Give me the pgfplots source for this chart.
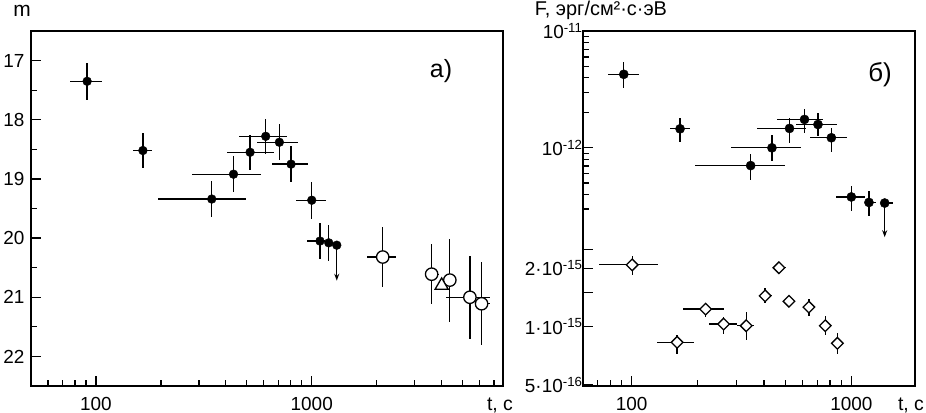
\documentclass[border=0pt]{standalone}
\usepackage{fontspec}
\setmainfont{Liberation Sans}
\usepackage{pgfplots}
\usepackage{pgfplotstable}
\pgfplotsset{compat=1.18}
\usetikzlibrary{arrows.meta}

\pgfplotstableread{
t m tm tp me
91 17.35 15 16 0.31
165 18.52 16 16 0.30
344 19.34 151 153 0.31
434 18.92 154 148 0.30
518 18.55 114 150 0.30
612 18.28 152 153 0.30
708 18.38 152 153 0.30
802 18.75 149 162 0.31
1000 19.36 154 164 0.31
1092 20.05 144 61 0.30
1199 20.08 0 0 0.30
1306 20.12 0 0 0
}\leftfilled

\pgfplotstableread{
t m tm tp me
2133 20.32 333 322 0.50
3595 20.61 167 285 0.51
4365 20.71 0 0 0.70
5407 21.00 1199 1276 0.70
6125 21.11 318 575 0.70
}\leftopen

\pgfplotstableread{
t F tm tp Fm Fp
92 4.26e-12 14 16 0.99e-12 1.16e-12
166 1.455e-12 16 19 0.335e-12 0.355e-12
348 7.05e-13 153.5 149 1.7e-13 1.85e-13
435 1.0e-12 153 152 2.3e-13 2.8e-13
523 1.466e-12 151 97 0.36e-12 0.34e-12
612 1.75e-12 152 129 0.40e-12 0.41e-12
705 1.585e-12 144 158 0.325e-12 0.385e-12
811 1.22e-12 161 144 0.30e-12 0.26e-12
1000 3.8e-13 145 151 0.94e-13 0.95e-13
1203 3.41e-13 53 97 0.82e-13 0.89e-13
1419 3.37e-13 60 130 0 0
}\rightfilled

\pgfplotstableread{
t F tm tp Fm Fp
100.5 2.08e-15 29.7 31.9 0.23e-15 0.22e-15
161 8.3e-16 31 32 1.1e-16 0.8e-16
217 1.23e-15 46 45 0.11e-15 0.09e-15
262 1.03e-15 36 40 0.114e-15 0.097e-15
332 1.01e-15 29 30 0.16e-15 0.18e-15
405 1.44e-15 24 28 0.12e-15 0.14e-15
468 2.01e-15 28 38 0.12e-15 0.11e-15
520 1.35e-15 20 20 0.08e-15 0.08e-15
641 1.26e-15 20 20 0.125e-15 0.12e-15
761 1.01e-15 25 25 0.11e-15 0.125e-15
864 8.2e-16 25 25 1.0e-16 1.05e-16
}\rightdiam

\pgfplotsset{
  myaxis/.style={
    scale only axis, anchor=south west,
    axis line style={line width=1.6bp},
    tick style={line width=1.2bp, black},
    major tick length=10bp, minor tick length=6.5bp,
    xtick pos=bottom, ytick pos=left,
    tick align=inside,
    ticklabel style={font=\fontsize{19}{22}\selectfont},
    /pgf/number format/assume math mode=true,
    clip=false,
    error bars/error bar style={line width=1.3bp, black},
    error bars/error mark=none,
  },
  ebars/.style={
    error bars/.cd, x dir=both, x explicit, y dir=both, y explicit,
  },
}

\begin{document}
\begin{tikzpicture}
% ---------- left panel ----------
\begin{axis}[myaxis,
  at={(31bp,27bp)}, width=472bp, height=355bp,
  xmode=log, xmin=50, xmax=7700,
  xtick={100,1000}, xticklabels={100,1000},
  minor xtick={60,70,80,90,200,300,400,500,600,700,800,900,2000,3000,4000,5000,6000,7000},
  ymin=16.5, ymax=22.5, y dir=reverse,
  ytick={17,18,19,20,21,22},
  minor ytick={17.5,18.5,19.5,20.5,21.5},
  xticklabel style={yshift=-8bp},
  yticklabel style={xshift=-3bp},
]
\addplot[only marks, mark=*, mark size=4.4bp, mark options={fill=black, draw=black}, ebars]
  table[x=t, y=m, x error minus=tm, x error plus=tp, y error=me] {\leftfilled};
\addplot[only marks, mark=*, mark size=6.2bp, mark options={fill=white, draw=black, line width=1.3bp}, ebars]
  table[x=t, y=m, x error minus=tm, x error plus=tp, y error=me] {\leftopen};
\addplot[only marks, mark=triangle*, mark size=7.5bp, mark options={fill=white, draw=black, line width=1.3bp}]
  coordinates {(4000,20.80)};
\addplot[line width=1.3bp, -{Stealth[length=7bp, width=5bp]}] coordinates {(1306,20.12) (1306,20.72)};
\end{axis}

% ---------- right panel, upper scale (filled circles) ----------
\begin{axis}[myaxis,
  at={(583bp,27bp)}, width=332bp, height=355bp,
  xmode=log, xmin=60, xmax=1950,
  xtick={100,1000}, xticklabels={100,1000},
  minor xtick={70,80,90,200,300,400,500,600,700,800,900},
  ymode=log, ymin=9.15e-15, ymax=1e-11,
  ytick={1e-12,1e-11},
  yticklabels={10\textsuperscript{-12},10\textsuperscript{-11}},
  minor ytick={3e-13,4e-13,5e-13,6e-13,7e-13,8e-13,9e-13,2e-12,3e-12,4e-12,5e-12,6e-12,7e-12,8e-12,9e-12},
  xticklabel style={yshift=-8bp},
  yticklabel style={xshift=3bp},
]
\addplot[only marks, mark=*, mark size=4.6bp, mark options={fill=black, draw=black}, ebars]
  table[x=t, y=F, x error minus=tm, x error plus=tp, y error minus=Fm, y error plus=Fp] {\rightfilled};
\addplot[line width=1.3bp, -{Stealth[length=7bp, width=5bp]}] coordinates {(1419,3.37e-13) (1419,1.72e-13)};
\end{axis}

% ---------- right panel, lower scale (diamonds) ----------
\begin{axis}[myaxis,
  at={(583bp,27bp)}, width=332bp, height=355bp,
  xmode=log, xmin=60, xmax=1950,
  hide x axis,
  ymode=log, ymin=4.94e-16, ymax=3.33e-14,
  ytick={5e-16,1e-15,2e-15},
  yticklabels={5·10\textsuperscript{-16},1·10\textsuperscript{-15},2·10\textsuperscript{-15}},
  minor ytick={1.5e-15,2.5e-15},
  minor tick length=10bp,
  yticklabel style={xshift=3bp},
]
\addplot[only marks, mark=square*, mark size=4.1bp, mark options={rotate=45, fill=white, draw=black, line width=1.3bp}, ebars]
  table[x=t, y=F, x error minus=tm, x error plus=tp, y error minus=Fm, y error plus=Fp] {\rightdiam};
\end{axis}

% ---------- texts ----------
\node[font=\fontsize{21}{25}\selectfont] at (22bp,402bp) {m};
\node[font=\fontsize{19.5}{23}\selectfont] at (500bp,8bp) {t, с};
\node[font=\fontsize{19.5}{23}\selectfont] at (911bp,8bp) {t, с};
\node[font=\fontsize{20}{24}\selectfont] at (601bp,403bp) {F, эрг/см²·с·эВ};
\node[font=\fontsize{25}{30}\selectfont] at (441bp,342bp) {а)};
\node[font=\fontsize{26}{30}\selectfont] at (880bp,338bp) {б)};

\pgfresetboundingbox
\path[use as bounding box] (0,0) rectangle (926bp,413bp);
\end{tikzpicture}
\end{document}
